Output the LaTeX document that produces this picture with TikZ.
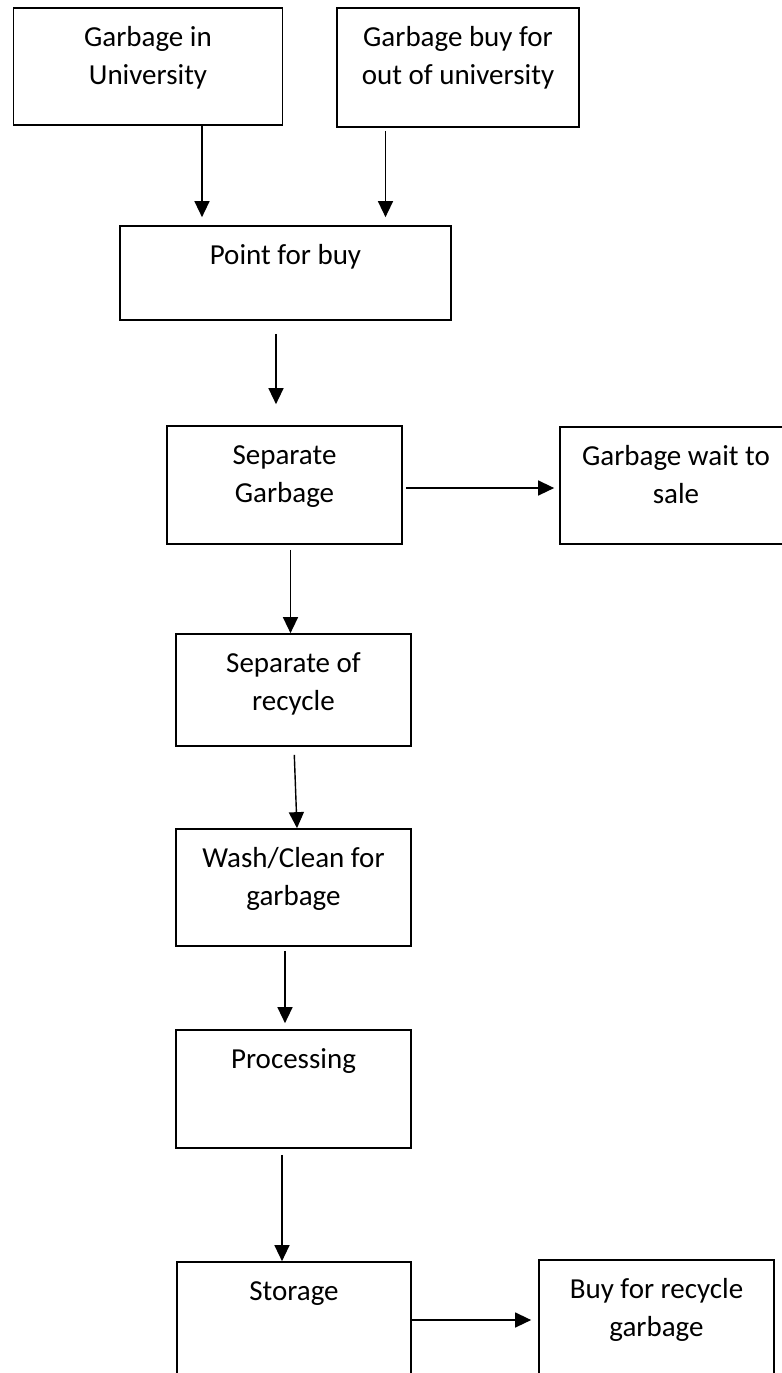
\documentclass[tikz,border=0pt]{standalone}
\usepackage{fontspec}
\setmainfont{Carlito}
\usetikzlibrary{arrows.meta}

\newcommand{\boxtext}[3]{\parbox[c][#2][t]{#1}{\centering\vspace*{6pt}\strut #3}}

\begin{document}
\begin{tikzpicture}[x=0.5pt, y=-0.5pt, >={Triangle[length=8pt,width=7.5pt]}, line width=0.7pt]
    \tikzstyle{every node} = [draw, rectangle, inner sep=0pt, line width=0.85pt, font=\fontsize{14.5}{19}\selectfont]
    \useasboundingbox (0,0) rectangle (782,1373);
    \clip (0,0) rectangle (782,1373);
    \node (a) at (148,66.5) {\boxtext{134.5pt}{58.5pt}{Garbage in\\University}};
    \node (b) at (458,67.5) {\boxtext{121pt}{59.5pt}{Garbage buy for\\out of university}};
    \node (c) at (285.5,273) {\boxtext{165.5pt}{47pt}{Point for buy}};
    \node (d) at (284.5,485) {\boxtext{117.5pt}{59pt}{Separate\\Garbage}};
    \node (e) at (676,485.5) {\boxtext{116pt}{58.5pt}{Garbage wait to\\sale}};
    \node (f) at (293.5,690) {\boxtext{117.5pt}{56pt}{Separate of\\recycle}};
    \node (g) at (293.5,887.5) {\boxtext{117.5pt}{58.5pt}{Wash/Clean for\\garbage}};
    \node (h) at (293.5,1089) {\boxtext{117.5pt}{59pt}{Processing}};
    \node (i) at (294,1321) {\boxtext{117pt}{59pt}{Storage}};
    \node (j) at (656.5,1319) {\boxtext{117.5pt}{59pt}{Buy for recycle\\garbage}};
      \draw [->, shorten >=4pt] ([xshift=27pt]a.south) -- ([xshift=27pt]a.south |- c.north);
      \draw [->, shorten <=1.5pt, shorten >=4pt] ([xshift=-36.25pt]b.south) -- ([xshift=-36.25pt]b.south |- c.north);
      \draw [->, shorten <=6.5pt, shorten >=10.5pt] ([xshift=-4.75pt]c.south) -- ([xshift=-4.75pt]c.south |- d.north);
      \draw [->, shorten <=1.5pt, shorten >=2.5pt] ([yshift=-1.5pt]d.east) -- ([yshift=-1.5pt]d.east -| e.west);
      \draw [->, shorten <=2.5pt] ([xshift=3pt]d.south) -- ([xshift=3pt]d.south |- f.north);
      \draw [->, shorten <=4pt] ([xshift=0.25pt]f.south) -- ([xshift=1.75pt]g.north);
      \draw [->, shorten <=2pt, shorten >=3pt] ([xshift=-4.25pt]g.south) -- ([xshift=-4.25pt]g.south |- h.north);
      \draw [->, shorten <=3pt] ([xshift=-5.75pt]h.south) -- ([xshift=-5.75pt]h.south |- i.north);
      \draw [->, shorten >=3.5pt] ([yshift=0.5pt]i.east) -- ([yshift=0.5pt]i.east -| j.west);
  \end{tikzpicture}
\end{document}
